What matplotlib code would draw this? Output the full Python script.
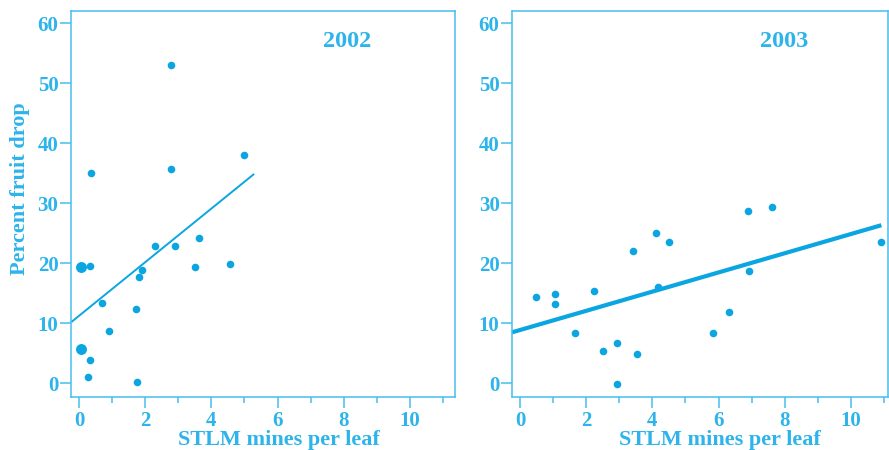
import numpy as np
import matplotlib.pyplot as plt

# STLM mines per leaf vs percent fruit drop, two seasons
mines_2002 = [0.06, 0.32, 0.36, 0.06, 0.32, 0.27, 0.71, 0.91, 1.71, 1.75,
              1.82, 1.89, 2.30, 2.79, 2.79, 2.91, 3.52, 3.62, 4.55, 5.00]
drop_2002 = [19.4, 19.6, 35.1, 5.7, 3.9, 1.1, 13.4, 8.8, 12.4, 0.2,
             17.8, 18.9, 22.9, 53.1, 35.8, 22.9, 19.4, 24.3, 19.9, 38.1]
big_2002 = [True, False, False, True, False, False, False, False, False, False,
            False, False, False, False, False, False, False, False, False, False]

mines_2003 = [0.50, 1.07, 1.07, 1.67, 2.24, 2.50, 2.94, 2.94, 3.41, 3.53,
              4.12, 4.16, 4.50, 5.84, 6.31, 6.90, 6.92, 7.63, 10.90]
drop_2003 = [14.4, 14.9, 13.3, 8.4, 15.4, 5.4, 6.8, -0.1, 22.1, 4.9,
             25.0, 16.1, 23.6, 8.4, 11.9, 28.8, 18.7, 29.4, 23.6]

# fitted lines: (x start, x end, intercept, slope)
fit_2002 = (-0.21, 5.27, 11.24, 4.47)
fit_2003 = (-0.24, 10.92, 8.88, 1.60)

text_col = '#2db4ea'
dot_col = '#0ba6e1'
spine_col = '#45bfee'
font = ['Liberation Serif', 'DejaVu Serif']

plt.rcParams['font.family'] = font
plt.rcParams['font.weight'] = 'bold'

fig = plt.figure(figsize=(8.89, 4.5), dpi=100)
ax1 = fig.add_axes([71 / 889, 53 / 450, 384 / 889, 386 / 450])
ax2 = fig.add_axes([512 / 889, 53 / 450, 376 / 889, 386 / 450])


def style(ax, xmax):
    ax.set_xlim(-0.24, xmax)
    ax.set_ylim(-2.28, 62.05)
    for s in ax.spines.values():
        s.set_color(spine_col)
        s.set_linewidth(1.1)
    ax.set_xticks([0, 2, 4, 6, 8, 10])
    ax.set_xticks([1, 3, 5, 7, 9, 11], minor=True)
    ax.set_yticks([0, 10, 20, 30, 40, 50, 60])
    ax.tick_params(axis='both', which='major', direction='out', length=8, width=1.1,
                   color=spine_col, labelcolor=text_col, labelsize=15)
    ax.tick_params(axis='x', which='minor', direction='out', length=4, width=1.1,
                   color=spine_col)
    ax.tick_params(axis='y', pad=1)
    ax.tick_params(axis='x', pad=2)


# 2002 panel
x = np.array(mines_2002)
y = np.array(drop_2002)
big = np.array(big_2002)
ax1.scatter(x[~big], y[~big], s=30, color=dot_col, zorder=3, linewidths=0)
ax1.scatter(x[big], y[big], s=62, color=dot_col, zorder=3, linewidths=0)
xx = np.array(fit_2002[:2])
ax1.plot(xx, fit_2002[2] + fit_2002[3] * xx, color=dot_col, lw=1.4, clip_on=False)
style(ax1, 11.36)
ax1.text(0.72, 0.92, '2002', transform=ax1.transAxes, color=text_col,
         fontsize=17.5, fontweight='bold', ha='center', va='center')

# 2003 panel
ax2.scatter(mines_2003, drop_2003, s=30, color=dot_col, zorder=3, linewidths=0)
xx = np.array(fit_2003[:2])
ax2.plot(xx, fit_2003[2] + fit_2003[3] * xx, color=dot_col, lw=3.0,
         solid_capstyle='butt', clip_on=False)
style(ax2, 11.12)
ax2.text(0.725, 0.92, '2003', transform=ax2.transAxes, color=text_col,
         fontsize=17.5, fontweight='bold', ha='center', va='center')

fig.text(279 / 889, 1 - 440 / 450, 'STLM mines per leaf', color=text_col,
         fontsize=16, fontweight='bold', ha='center', va='center')
fig.text(720 / 889, 1 - 440 / 450, 'STLM mines per leaf', color=text_col,
         fontsize=16, fontweight='bold', ha='center', va='center')
fig.text(20 / 889, 1 - 189 / 450, 'Percent fruit drop', color=text_col,
         fontsize=16, fontweight='bold', ha='center', va='center', rotation=90)

fig.savefig('out.png', dpi=100)
